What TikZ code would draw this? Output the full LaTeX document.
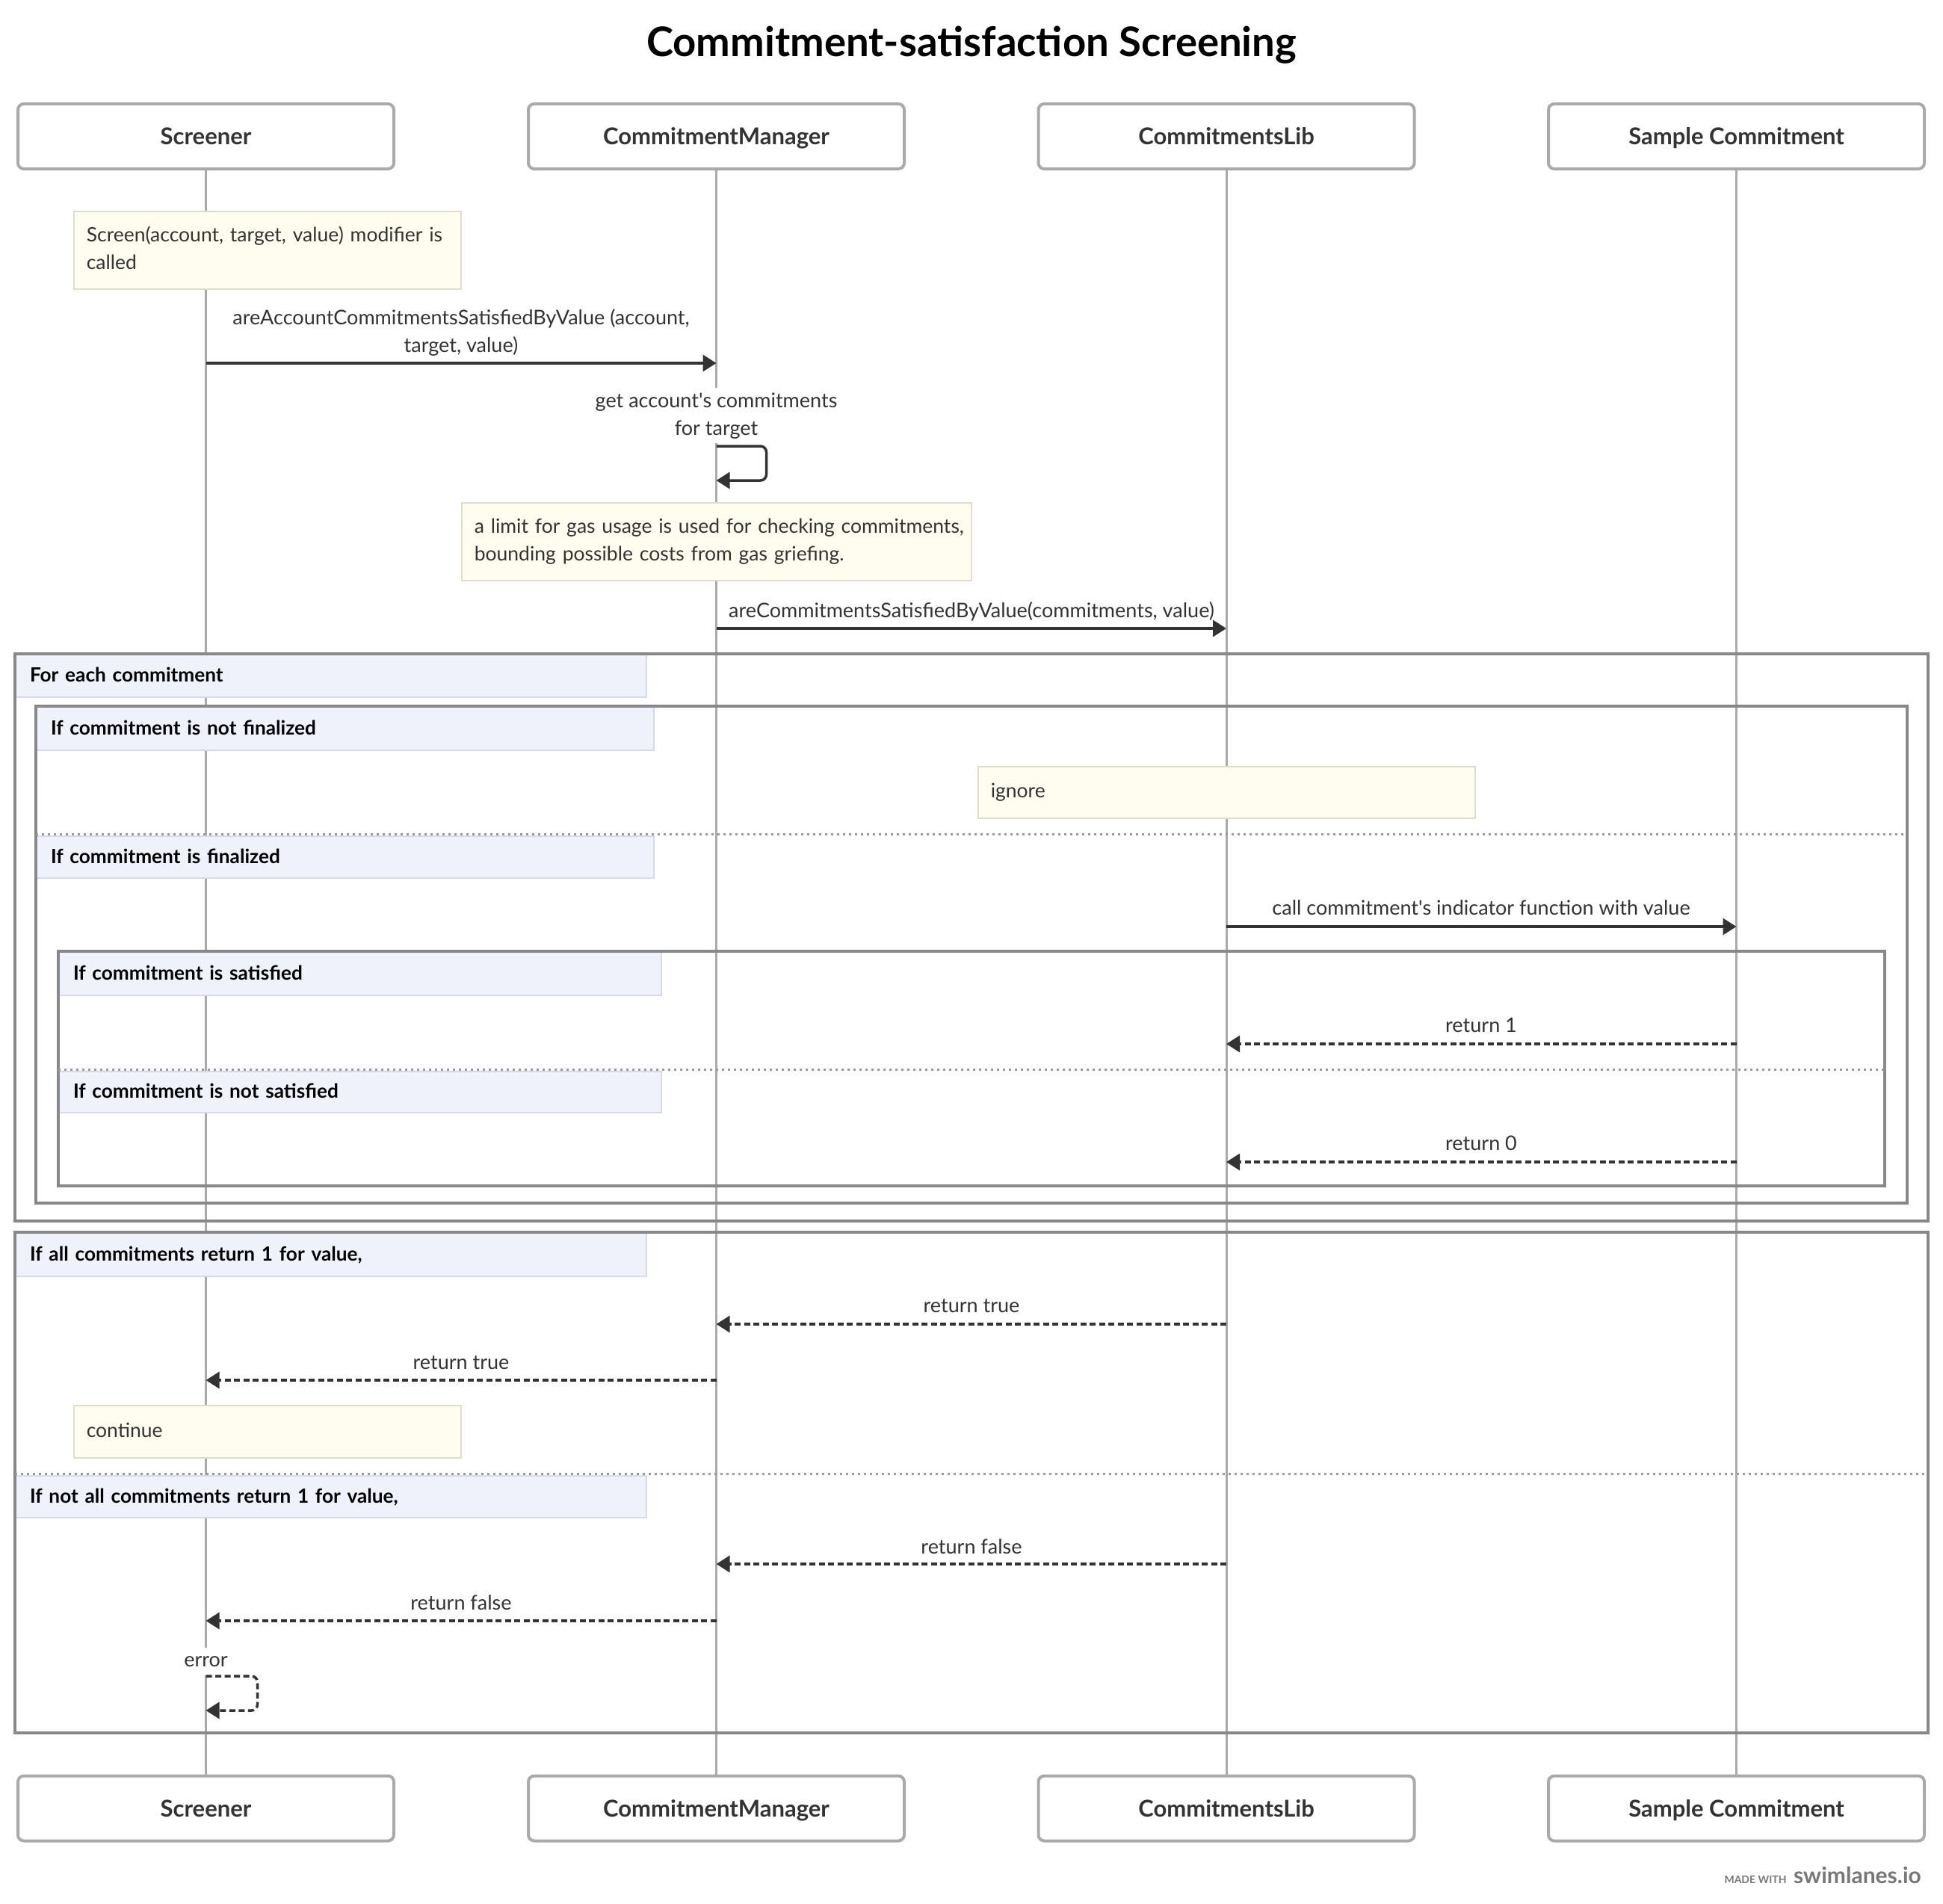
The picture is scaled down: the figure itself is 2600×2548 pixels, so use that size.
\documentclass[tikz,border=0pt]{standalone}
\usepackage{fontspec}
\setmainfont{Lato}
\usetikzlibrary{arrows.meta}

\definecolor{ink}{HTML}{333333}
\definecolor{lifegray}{HTML}{AAAAAA}
\definecolor{framegray}{HTML}{888888}
\definecolor{sepgray}{HTML}{999999}
\definecolor{notebg}{HTML}{FEFDF0}
\definecolor{notebd}{HTML}{DEDDC8}
\definecolor{glbg}{HTML}{EFF2FA}
\definecolor{glbd}{HTML}{D6DAE8}
\definecolor{brandgray}{HTML}{777777}

\newcommand{\txtsize}{\fontsize{27}{37}\selectfont}
\newcommand{\notesize}{\fontsize{26.5}{37}\selectfont}
\newcommand{\grpsize}{\fontsize{26.2}{37}\selectfont}
\newcommand{\hdrsize}{\fontsize{31}{36}\selectfont}
\newcommand{\ttlsize}{\fontsize{54.5}{62}\selectfont}
\newcommand{\apo}{\textquotesingle}

\begin{document}
\begin{tikzpicture}[x=1pt, y=-1pt,
  actor/.style={draw=lifegray, line width=4pt, rounded corners=8pt, fill=white,
    minimum width=503pt, minimum height=87pt, inner sep=0pt,
    font=\hdrsize\bfseries, text=ink, text height=22pt, text depth=0pt},
  lifeline/.style={draw=lifegray, line width=3pt},
  msg/.style={draw=ink, line width=3.5pt, -{Triangle[length=18pt,width=22pt]}},
  ret/.style={msg, dash pattern=on 8pt off 4.5pt},
  note/.style={draw=notebd, fill=notebg, line width=1.5pt, inner xsep=17pt,
    inner ysep=0pt, align=left, font=\notesize, text=ink, anchor=north west},
  lbl/.style={font=\txtsize, text=ink, inner sep=0pt},
  frame/.style={draw=framegray, line width=4pt},
  sep/.style={draw=sepgray, line width=3pt, dash pattern=on 2.5pt off 5.5pt},
  glabel/.style={fill=glbg, draw=glbd, line width=2pt, anchor=north west,
    inner xsep=19pt, inner ysep=0pt, align=left, font=\grpsize\bfseries,
    text=black, text height=20pt, text depth=4pt},
  title/.style={font=\ttlsize\bfseries, text=black, inner sep=0pt, anchor=base}
]
\useasboundingbox (0,0) rectangle (2600,2548);
\fill[white] (0,0) rectangle (2600,2548);

% title
\node[title] (title) at (1300,75) {Commitment-satisfaction Screening};

% participants, top and bottom
\node[actor] (sTop) at (275.5,182.5) {Screener};
\node[actor] (mTop) at (958.5,182.5) {CommitmentManager};
\node[actor] (lTop) at (1641,182.5) {CommitmentsLib};
\node[actor] (cTop) at (2323.5,182.5) {Sample Commitment};
\node[actor] (sBot) at (275.5,2420) {Screener};
\node[actor] (mBot) at (958.5,2420) {CommitmentManager};
\node[actor] (lBot) at (1641,2420) {CommitmentsLib};
\node[actor] (cBot) at (2323.5,2420) {Sample Commitment};

% lifelines
\draw[lifeline] (sTop) -- (sBot);
\draw[lifeline] (mTop) -- (mBot);
\draw[lifeline] (lTop) -- (lBot);
\draw[lifeline] (cTop) -- (cBot);

% group headings
\node[glabel, text width=806pt, minimum height=57pt] (g1) at (20,875) {For each commitment};
\node[glabel, text width=788pt, minimum height=58pt] (g2a) at (48,945) {If commitment is not finalized};
\node[glabel, text width=788pt, minimum height=56pt] (g2b) at (48,1118) {If commitment is finalized};
\node[glabel, text width=768pt, minimum height=58pt] (g3a) at (78,1273) {If commitment is satisfied};
\node[glabel, text width=768pt, minimum height=55pt] (g3b) at (78,1433) {If commitment is not satisfied};
\node[glabel, text width=806pt, minimum height=58pt] (g4a) at (20,1649) {If all commitments return 1 for value,};
\node[glabel, text width=806pt, minimum height=56pt] (g4b) at (20,1974) {If not all commitments return 1 for value,};

% group frames and section separators
\draw[frame] (20,875) rectangle (2580,1634);
\draw[frame] (48,945) rectangle (2552,1610);
\draw[frame] (78,1273) rectangle (2522,1587);
\draw[frame] (20,1649) rectangle (2580,2319);
\draw[sep] (48,1116) -- (2552,1116);
\draw[sep] (78,1431) -- (2522,1431);
\draw[sep] (20,1972) -- (2580,1972);

% notes
\node[note, text width=484pt, minimum height=104pt] (n1) at (98,282)
  {\mbox{\strut Screen(account, target, value) modifier is}\\\strut called};
\node[note, text width=648pt, minimum height=104pt] (n2) at (617,672)
  {\mbox{\strut a limit for gas usage is used for checking commitments,}\\\mbox{\strut bounding possible costs from gas griefing.}};
\node[note, text width=631pt, minimum height=69pt] (n3) at (1308,1025) {\strut ignore};
\node[note, text width=484pt, minimum height=70pt] (n4) at (98,1880) {\strut continue};

% message end points on the lifelines
\coordinate (m1a) at (275.5,486);  \coordinate (m1b) at (958.5,486);
\coordinate (m2a) at (958.5,597);  \coordinate (m2b) at (958.5,643);
\coordinate (m3a) at (958.5,841);  \coordinate (m3b) at (1641,841);
\coordinate (m4a) at (1641,1240);  \coordinate (m4b) at (2323.5,1240);
\coordinate (m5a) at (2323.5,1397); \coordinate (m5b) at (1641,1397);
\coordinate (m6a) at (2323.5,1555); \coordinate (m6b) at (1641,1555);
\coordinate (m7a) at (1641,1772);  \coordinate (m7b) at (958.5,1772);
\coordinate (m8a) at (958.5,1847); \coordinate (m8b) at (275.5,1847);
\coordinate (m9a) at (1641,2093);  \coordinate (m9b) at (958.5,2093);
\coordinate (m10a) at (958.5,2169); \coordinate (m10b) at (275.5,2169);
\coordinate (m11a) at (275.5,2243); \coordinate (m11b) at (275.5,2289);

% calls
\draw[msg] (m1a) -- (m1b);
\node[lbl, anchor=north, align=center] (t1) at (617,408)
  {\strut areAccountCommitmentsSatisfiedByValue (account,\\\strut target, value)};

\node[lbl, anchor=north, align=center, fill=white] (t2) at (958.5,519)
  {\strut get account\apo s commitments\\\strut for target};
\draw[msg, rounded corners=8pt] (m2a) -- ++(67,0) -- ++(0,46) -- (m2b);

\draw[msg] (m3a) -- (m3b);
\node[lbl, anchor=mid] (t3) at (1300,824) {areCommitmentsSatisfiedByValue(commitments, value)};

\draw[msg] (m4a) -- (m4b);
\node[lbl, anchor=mid] (t4) at (1982,1222) {call commitment\apo s indicator function with value};

% returns
\draw[ret] (m5a) -- (m5b);
\node[lbl, anchor=mid] (t5) at (1982,1379) {return 1};
\draw[ret] (m6a) -- (m6b);
\node[lbl, anchor=mid] (t6) at (1982,1537) {return 0};
\draw[ret] (m7a) -- (m7b);
\node[lbl, anchor=mid] (t7) at (1300,1754) {return true};
\draw[ret] (m8a) -- (m8b);
\node[lbl, anchor=mid] (t8) at (617,1830) {return true};
\draw[ret] (m9a) -- (m9b);
\node[lbl, anchor=mid] (t9) at (1300,2077) {return false};
\draw[ret] (m10a) -- (m10b);
\node[lbl, anchor=mid] (t10) at (617,2152) {return false};

\node[lbl, anchor=mid, fill=white] (t11) at (275.5,2228) {\strut error};
\draw[ret, rounded corners=8pt] (m11a) -- ++(69,0) -- ++(0,46) -- (m11b);

% footer
\node[anchor=base east, inner sep=0pt, font=\fontsize{30}{36}\selectfont\bfseries, text=brandgray]
  (brand) at (2571,2520) {swimlanes.io};
\node[anchor=base east, inner sep=0pt, font=\fontsize{14}{16}\selectfont\bfseries, text=brandgray]
  (made) at ([xshift=-9pt]brand.base west) {MADE WITH};
\end{tikzpicture}
\end{document}
